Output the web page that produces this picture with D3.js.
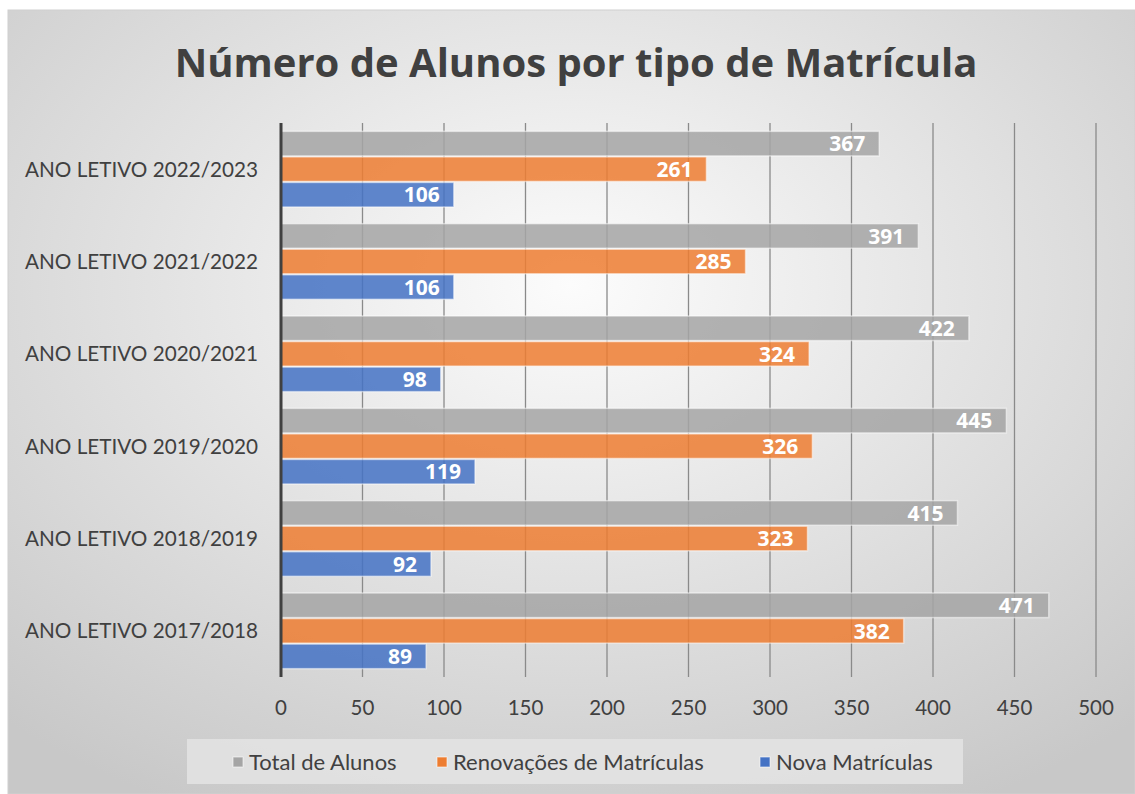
<!DOCTYPE html>
<html>
<head>
<meta charset="utf-8">
<script src="https://cdn.jsdelivr.net/npm/d3@7"></script>
<style>
  body { margin: 0; background: #fff; }
  text { font-family: Lato, "Open Sans", sans-serif; }
</style>
</head>
<body>
<div id="chart"></div>
<script>
// data
var categories = ["ANO LETIVO 2022/2023", "ANO LETIVO 2021/2022", "ANO LETIVO 2020/2021",
                  "ANO LETIVO 2019/2020", "ANO LETIVO 2018/2019", "ANO LETIVO 2017/2018"];
var seriesNames = ["Total de Alunos", "Renovações de Matrículas", "Nova Matrículas"];
var totalAlunos = [367, 391, 422, 445, 415, 471];
var renovacoes = [261, 285, 324, 326, 323, 382];
var novas = [106, 106, 98, 119, 92, 89];
var xTicks = [0, 50, 100, 150, 200, 250, 300, 350, 400, 450, 500];

var colors = ["#a5a5a5", "#ed7d31", "#4472c4"];
var seriesValues = [totalAlunos, renovacoes, novas];

var W = 1135, H = 794;
var svg = d3.select("#chart").append("svg")
  .attr("width", W).attr("height", H);

// background gradient
var defs = svg.append("defs");
var grad = defs.append("radialGradient")
  .attr("id", "bg").attr("cx", "50%").attr("cy", "35%").attr("r", "75%");
grad.append("stop").attr("offset", "0%").attr("stop-color", "#fcfcfc");
grad.append("stop").attr("offset", "100%").attr("stop-color", "#c8c8c8");

svg.append("rect")
  .attr("x", 8).attr("y", 10).attr("width", W - 8).attr("height", H - 10)
  .attr("fill", "url(#bg)")
  .attr("stroke", "#d0d0d0");

// title
svg.append("text")
  .attr("x", 576).attr("y", 77)
  .attr("text-anchor", "middle")
  .style("font-family", "'Open Sans', sans-serif")
  .style("font-weight", "bold")
  .style("font-size", "40px")
  .attr("fill", "#404040")
  .text("Número de Alunos por tipo de Matrícula");

var margin = {top: 123, left: 281, right: 1096, bottom: 677};

var x = d3.scaleLinear().domain([0, 500]).range([margin.left, margin.right]);
var y = d3.scaleBand().domain(categories).range([margin.top, margin.bottom]).paddingInner(0.17).paddingOuter(0.085);
var ySub = d3.scaleBand().domain(d3.range(3)).range([0, y.bandwidth()]);

// gridlines
svg.append("g").selectAll("line")
  .data(xTicks.slice(1))
  .enter().append("line")
  .attr("x1", function(d) { return x(d); })
  .attr("x2", function(d) { return x(d); })
  .attr("y1", margin.top).attr("y2", margin.bottom)
  .attr("stroke", "#8a8a8a").attr("stroke-width", 1.3);

// bars
var groups = svg.append("g").selectAll("g")
  .data(categories)
  .enter().append("g")
  .attr("transform", function(d) { return "translate(0," + y(d) + ")"; });

groups.each(function(cat, i) {
  var g = d3.select(this);
  seriesValues.forEach(function(vals, s) {
    var v = vals[i];
    g.append("rect")
      .attr("x", x(0))
      .attr("y", ySub(s) + 0.5)
      .attr("width", x(v) - x(0))
      .attr("height", ySub.bandwidth() - 1)
      .attr("fill", colors[s])
      .attr("fill-opacity", 0.85)
      .attr("stroke", "#ffffff")
      .attr("stroke-opacity", 0.5)
      .attr("stroke-width", 1.5);
    g.append("text")
      .attr("x", x(v) - 14)
      .attr("y", ySub(s) + ySub.bandwidth() / 2)
      .attr("dy", "0.37em")
      .attr("text-anchor", "end")
      .attr("fill", "#ffffff")
      .style("font-family", "'Open Sans', sans-serif")
      .style("font-weight", "bold")
      .style("font-size", "21px")
      .text(v);
  });
});

// axis line at zero
svg.append("line")
  .attr("x1", x(0)).attr("x2", x(0))
  .attr("y1", margin.top).attr("y2", margin.bottom)
  .attr("stroke", "#404040").attr("stroke-width", 3);

// category labels
svg.append("g").selectAll("text")
  .data(categories)
  .enter().append("text")
  .attr("x", 258)
  .attr("y", function(d) { return y(d) + y.bandwidth() / 2; })
  .attr("dy", "0.36em")
  .attr("text-anchor", "end")
  .attr("fill", "#404040")
  .style("font-size", "20.7px")
  .text(function(d) { return d; });

// x tick labels
svg.append("g").selectAll("text")
  .data(xTicks)
  .enter().append("text")
  .attr("x", function(d) { return x(d); })
  .attr("y", 715)
  .attr("text-anchor", "middle")
  .attr("fill", "#404040")
  .style("font-size", "20.5px")
  .text(function(d) { return d; });

// legend
svg.append("rect")
  .attr("x", 187).attr("y", 739).attr("width", 776).attr("height", 45)
  .attr("fill", "#e2e2e2").attr("fill-opacity", 0.9);

var legendX = [233, 437, 760];
var legend = svg.append("g").selectAll("g")
  .data(seriesNames)
  .enter().append("g")
  .attr("transform", function(d, i) { return "translate(" + legendX[i] + ",762)"; });
legend.append("rect")
  .attr("x", 0).attr("y", -5).attr("width", 10).attr("height", 10)
  .attr("fill", function(d, i) { return colors[i]; })
  .attr("stroke", "#ffffff").attr("stroke-opacity", 0.6);
legend.append("text")
  .attr("x", 16).attr("dy", "0.36em")
  .attr("fill", "#404040")
  .style("font-size", "22px")
  .text(function(d) { return d; });
</script>
</body>
</html>
